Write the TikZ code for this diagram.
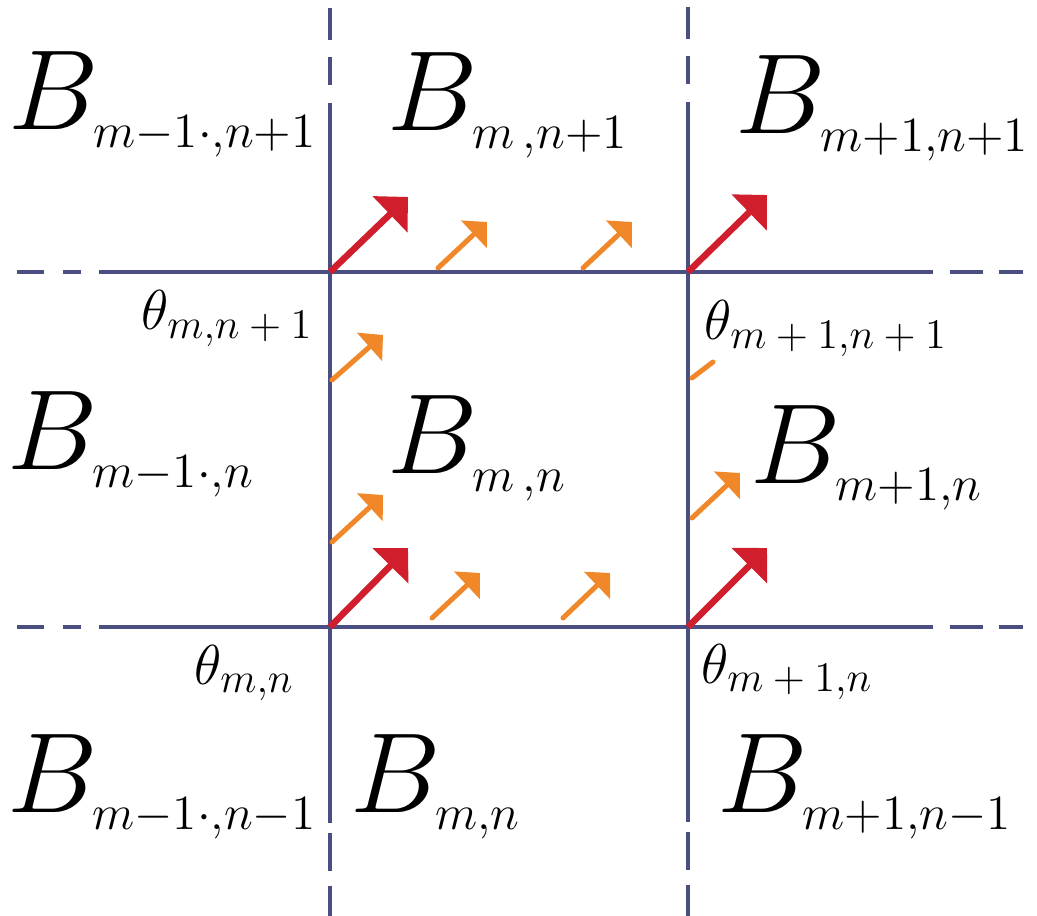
\RequirePackage{fix-cm}
\documentclass[tikz,border=0pt]{standalone}
\usepackage{amsmath}
\usepackage{xcolor}
\usepackage{tikz}
\usetikzlibrary{arrows.meta}

\definecolor{gridblue}{RGB}{74,78,128}
\definecolor{vecred}{RGB}{208,30,45}
\definecolor{vecorange}{RGB}{240,135,40}

% block label: big B, small subscript
\newcommand{\blocklab}[1]{$B_{\mbox{\fontsize{20}{22}\selectfont$\scriptstyle #1$}}$}
% corner label: theta with a fairly large subscript
\newcommand{\cornerlab}[1]{$\theta_{\mbox{\fontsize{12}{14}\selectfont$#1$}}$}

\begin{document}
\begin{tikzpicture}[
    x=0.01cm,
    y=-0.01cm,
    vgrid/.style={
        line width=0.042cm,
        gridblue,
        dash pattern=on 0.32cm off 0.17cm on 0.28cm off 0.18cm on 7.2cm off 0.1cm on 0.37cm off 0.15cm on 0.4cm
    },
    hgrid/.style={
        line width=0.042cm,
        gridblue,
        dash pattern=on 0.27cm off 0.19cm on 0.18cm off 0.18cm on 8.33cm off 0.17cm on 0.33cm off 0.16cm on 0.3cm
    },
    blocklabel/.style={anchor=base west, inner sep=0pt, font=\fontsize{32.4}{36}\selectfont},
    cornerlabel/.style={anchor=base west, inner sep=0pt, font=\fontsize{16}{18}\selectfont},
    bigvec/.style={-{Triangle[length=0.25cm, width=0.49cm]}, line width=0.065cm, vecred},
    smallvec/.style={-{Triangle[length=0.18cm, width=0.37cm]}, line width=0.05cm, line cap=round, vecorange}
]

\useasboundingbox (0,0) rectangle (1037,916);

% grid lines
\coordinate (vl-top) at (330,8);
\coordinate (vl-bot) at (330,916);
\coordinate (vr-top) at (688,7);
\coordinate (vr-bot) at (688,916);
\coordinate (ht-left) at (17,272);
\coordinate (ht-right) at (1023,272);
\coordinate (hb-left) at (17,627);
\coordinate (hb-right) at (1023,627);

\draw[vgrid] (vl-top) -- (vl-bot);
\draw[vgrid] (vr-top) -- (vr-bot);
\draw[hgrid] (ht-left) -- (ht-right);
\draw[hgrid] (hb-left) -- (hb-right);

% corners
\coordinate (mnp) at (330,272);
\coordinate (mpnp) at (688,272);
\coordinate (mn) at (330,627);
\coordinate (mpn) at (688,627);

% red vectors at the corners
\foreach \c/\tx/\ty in {mnp/408/197, mpnp/767/195, mn/408/548, mpn/767/548} {
    \coordinate (\c-tip) at (\tx,\ty);
    \draw[bigvec] (\c) -- (\c-tip);
}

% orange vectors on the edges
\foreach \v/\sx/\sy/\tx/\ty in {
    ot1/438/268/487/222, ot2/583/268/632/222,
    ob1/432/618/480/573, ob2/563/618/610/573,
    ol1/332/380/383/335, ol2/332/542/383/495,
    or2/692/518/740/473} {
    \coordinate (\v-s) at (\sx,\sy);
    \coordinate (\v-t) at (\tx,\ty);
    \draw[smallvec] (\v-s) -- (\v-t);
}
\coordinate (or1-s) at (692,378);
\coordinate (or1-t) at (713,362);
\draw[line width=0.05cm, line cap=round, vecorange] (or1-s) -- (or1-t);

% block labels
\node[blocklabel] (Bmmnp) at (8,130) {\blocklab{m-1{\cdot},n+1}};
\node[blocklabel] (Bmnp) at (387,131) {\blocklab{m\,,n+1}};
\node[blocklabel] (Bpmnp) at (735,134) {\blocklab{m+1,n+1}};
\node[blocklabel] (Bmmn) at (7,470) {\blocklab{m-1{\cdot},n}};
\node[blocklabel] (Bmn) at (387,474) {\blocklab{m\,,n}};
\node[blocklabel] (Bpmn) at (750,483) {\blocklab{m+1,n}};
\node[blocklabel] (Bmmnm) at (7,812) {\blocklab{m-1{\cdot},n-1}};
\node[blocklabel] (Bmnm) at (350,812) {\blocklab{m,n}};
\node[blocklabel] (Bpmnm) at (717,812) {\blocklab{m+1,n-1}};

% corner labels
\node[cornerlabel] (tmnp) at (141,330) {\cornerlab{m{,}n+1}};
\node[cornerlabel] (tpmnp) at (704,340) {\cornerlab{m+1{,}n+1}};
\node[cornerlabel] (tmn) at (194,684) {\cornerlab{m{,}n}};
\node[cornerlabel] (tpmn) at (701,683) {\cornerlab{m+1{,}n}};

\end{tikzpicture}
\end{document}
